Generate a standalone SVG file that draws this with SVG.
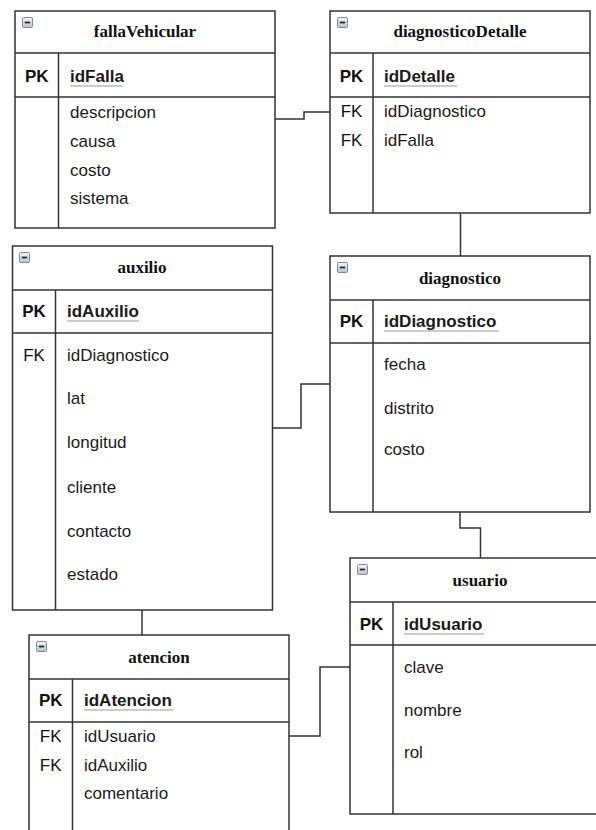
<svg xmlns="http://www.w3.org/2000/svg" width="596" height="830" viewBox="0 0 596 830">
<style>
.box{fill:#fff;stroke:#333;stroke-width:1.5}
.ln{stroke:#333;stroke-width:1.5;fill:none}
.conn{stroke:#333;stroke-width:1.5;fill:none}
.title{font-family:"Liberation Serif","Times New Roman",serif;font-weight:bold;font-size:17px;text-anchor:middle;fill:#111}
.k{font-family:"Liberation Sans",Arial,sans-serif;font-size:17px;text-anchor:middle;fill:#111}
.kb{font-weight:bold}
.f{font-family:"Liberation Sans",Arial,sans-serif;font-size:17px;fill:#1a1a1a}
.fb{font-weight:bold}
.ul{stroke:#9a9a9a;stroke-width:1.2}
</style>
<defs>
<linearGradient id="ig" x1="0" y1="0" x2="0" y2="1">
<stop offset="0" stop-color="#f4f6f8"/>
<stop offset="1" stop-color="#b9c3cc"/>
</linearGradient>
<g id="icon">
<rect x="0.5" y="0.5" width="10" height="10" rx="1.2" fill="url(#ig)" stroke="#7d8b97" stroke-width="1"/>
<line x1="2.8" y1="5.5" x2="8.2" y2="5.5" stroke="#222" stroke-width="1.7"/>
</g>
</defs>
<rect width="596" height="830" fill="#fff"/>

<g id="connectors">
<path class="conn" d="M275 119 H304 V112 H330"/>
<path class="conn" d="M460.5 213 V256"/>
<path class="conn" d="M272.5 428 H301 V384 H330"/>
<path class="conn" d="M460 512 V528 H480.5 V558"/>
<path class="conn" d="M142 610 V635"/>
<path class="conn" d="M289 736 H320 V667 H350"/>
</g>

<g id="fallaVehicular">
<rect class="box" x="15" y="11" width="260" height="217"/>
<line class="ln" x1="15" y1="53" x2="275" y2="53"/>
<line class="ln" x1="15" y1="97" x2="275" y2="97"/>
<line class="ln" x1="58.5" y1="53" x2="58.5" y2="228"/>
<use href="#icon" x="22" y="17"/>
<text class="title" x="145" y="37">fallaVehicular</text>
<text class="k kb" x="36.8" y="82">PK</text>
<text class="f fb" x="70" y="82">idFalla</text>
<line class="ul" x1="70" y1="86" x2="123" y2="86"/>
<text class="f" x="70" y="118">descripcion</text>
<text class="f" x="70" y="147">causa</text>
<text class="f" x="70" y="176">costo</text>
<text class="f" x="70" y="204">sistema</text>
</g>

<g id="diagnosticoDetalle">
<rect class="box" x="330" y="11" width="260" height="202"/>
<line class="ln" x1="330" y1="53" x2="590" y2="53"/>
<line class="ln" x1="330" y1="97" x2="590" y2="97"/>
<line class="ln" x1="373" y1="53" x2="373" y2="213"/>
<use href="#icon" x="337" y="17"/>
<text class="title" x="460" y="37">diagnosticoDetalle</text>
<text class="k kb" x="351.5" y="82">PK</text>
<text class="f fb" x="384" y="82">idDetalle</text>
<line class="ul" x1="384" y1="86" x2="457" y2="86"/>
<text class="k" x="351.5" y="117">FK</text>
<text class="f" x="384" y="117">idDiagnostico</text>
<text class="k" x="351.5" y="146">FK</text>
<text class="f" x="384" y="146">idFalla</text>
</g>

<g id="auxilio">
<rect class="box" x="12.5" y="246" width="260" height="364"/>
<line class="ln" x1="12.5" y1="290" x2="272.5" y2="290"/>
<line class="ln" x1="12.5" y1="333" x2="272.5" y2="333"/>
<line class="ln" x1="55.5" y1="290" x2="55.5" y2="610"/>
<use href="#icon" x="19" y="252"/>
<text class="title" x="142" y="273">auxilio</text>
<text class="k kb" x="34" y="317">PK</text>
<text class="f fb" x="67" y="317">idAuxilio</text>
<line class="ul" x1="67" y1="321" x2="139" y2="321"/>
<text class="k" x="34" y="361">FK</text>
<text class="f" x="67" y="361">idDiagnostico</text>
<text class="f" x="67" y="404">lat</text>
<text class="f" x="67" y="448">longitud</text>
<text class="f" x="67" y="493">cliente</text>
<text class="f" x="67" y="537">contacto</text>
<text class="f" x="67" y="580">estado</text>
</g>

<g id="diagnostico">
<rect class="box" x="330" y="256" width="260" height="256"/>
<line class="ln" x1="330" y1="300" x2="590" y2="300"/>
<line class="ln" x1="330" y1="343" x2="590" y2="343"/>
<line class="ln" x1="373" y1="300" x2="373" y2="512"/>
<use href="#icon" x="337" y="262"/>
<text class="title" x="460" y="284">diagnostico</text>
<text class="k kb" x="351.5" y="327">PK</text>
<text class="f fb" x="384" y="327">idDiagnostico</text>
<line class="ul" x1="384" y1="331" x2="499" y2="331"/>
<text class="f" x="384" y="370">fecha</text>
<text class="f" x="384" y="414">distrito</text>
<text class="f" x="384" y="455">costo</text>
</g>

<g id="usuario">
<rect class="box" x="350" y="558" width="260" height="256"/>
<line class="ln" x1="350" y1="602" x2="610" y2="602"/>
<line class="ln" x1="350" y1="645" x2="610" y2="645"/>
<line class="ln" x1="393" y1="602" x2="393" y2="814"/>
<use href="#icon" x="357" y="564"/>
<text class="title" x="480" y="586">usuario</text>
<text class="k kb" x="371.5" y="630">PK</text>
<text class="f fb" x="404" y="630">idUsuario</text>
<line class="ul" x1="404" y1="634" x2="484" y2="634"/>
<text class="f" x="404" y="673">clave</text>
<text class="f" x="404" y="716">nombre</text>
<text class="f" x="404" y="758">rol</text>
</g>

<g id="atencion">
<rect class="box" x="29" y="635" width="260" height="215"/>
<line class="ln" x1="29" y1="679" x2="289" y2="679"/>
<line class="ln" x1="29" y1="722" x2="289" y2="722"/>
<line class="ln" x1="72.5" y1="679" x2="72.5" y2="850"/>
<use href="#icon" x="36" y="641"/>
<text class="title" x="159" y="663">atencion</text>
<text class="k kb" x="50.7" y="706">PK</text>
<text class="f fb" x="84" y="706">idAtencion</text>
<line class="ul" x1="84" y1="710" x2="173" y2="710"/>
<text class="k" x="50.7" y="742">FK</text>
<text class="f" x="84" y="742">idUsuario</text>
<text class="k" x="50.7" y="771">FK</text>
<text class="f" x="84" y="771">idAuxilio</text>
<text class="f" x="84" y="799">comentario</text>
</g>
</svg>
